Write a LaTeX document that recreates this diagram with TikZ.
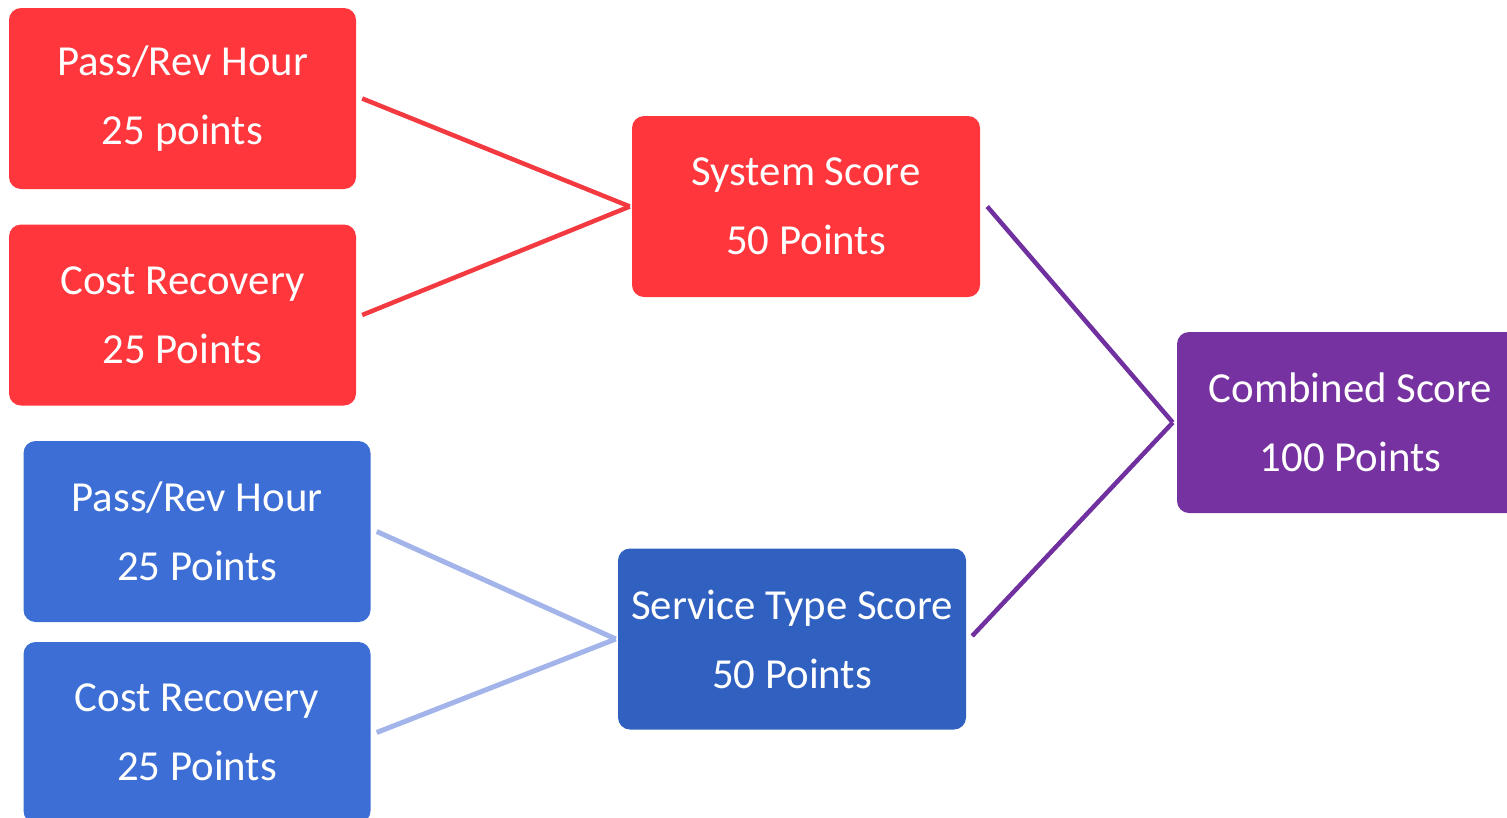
\documentclass[tikz,border=0pt]{standalone}
\usepackage{fontspec}
\setmainfont{Carlito}
\definecolor{boxred}{HTML}{FF363C}
\definecolor{boxblue}{HTML}{3D6ED6}
\definecolor{boxnavy}{HTML}{3060C0}
\definecolor{boxpurple}{HTML}{7532A0}
\definecolor{linered}{HTML}{F23A40}
\definecolor{linepurple}{HTML}{7030A0}
\definecolor{lineblue}{HTML}{A3B4EA}
\begin{document}
\begin{tikzpicture}[x=1pt,y=-1pt,
  scorebox/.style={rounded corners=12pt, inner sep=0pt, minimum width=347pt,
    minimum height=181pt, text=white, align=center,
    font=\fontsize{42.8}{69}\selectfont},
  link/.style={line width=4.5pt}]
  \useasboundingbox (0,0) rectangle (1507,817);
  \clip (0,0) rectangle (1507,817);

  % System score branch
  \node[scorebox, fill=boxred] (sp) at (182.5,98.5) {Pass/Rev Hour\\25 points};
  \node[scorebox, fill=boxred] (sc) at (182.5,315) {Cost Recovery\\25 Points};
  \node[scorebox, fill=boxred, minimum width=348pt] (sys) at (806,206.5) {System Score\\50 Points};

  % Service type branch
  \node[scorebox, fill=boxblue] (tp) at (197,531.5) {Pass/Rev Hour\\25 Points};
  \node[scorebox, fill=boxblue] (tc) at (197,732.5) {Cost Recovery\\25 Points};
  \node[scorebox, fill=boxnavy, minimum width=348pt] (svc) at (792,639) {Service Type Score\\50 Points};

  % Total
  \node[scorebox, fill=boxpurple] (tot) at (1350.5,422.5) {Combined Score\\100 Points};

  % Connectors
  \draw[link, linered] ([xshift=6pt]sp.east) -- ([xshift=-2pt]sys.west);
  \draw[link, linered] ([xshift=6pt]sc.east) -- ([xshift=-2pt]sys.west);
  \draw[link, lineblue, line width=5pt] ([xshift=6pt]tp.east) -- ([xshift=-2pt]svc.west);
  \draw[link, lineblue, line width=5pt] ([xshift=6pt]tc.east) -- ([xshift=-2pt]svc.west);
  \draw[link, linepurple] ([xshift=7pt]sys.east) -- ([xshift=-4pt]tot.west);
  \draw[link, linepurple] ([xshift=6pt,yshift=3pt]svc.east) -- ([xshift=-4pt]tot.west);
\end{tikzpicture}
\end{document}
